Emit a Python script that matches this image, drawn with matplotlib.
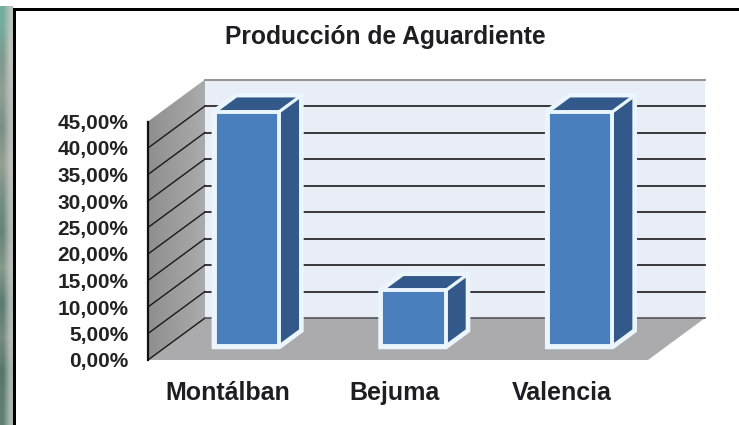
import numpy as np
import matplotlib
matplotlib.use('Agg')
import matplotlib.pyplot as plt
from matplotlib.patches import Polygon, Rectangle

# chart values
categories = ['Montálban', 'Bejuma', 'Valencia']
values = [44.2, 10.5, 44.2]
y_ticks = [0, 5, 10, 15, 20, 25, 30, 35, 40, 45]
y_labels = ['0,00%', '5,00%', '10,00%', '15,00%', '20,00%', '25,00%', '30,00%', '35,00%', '40,00%', '45,00%']
title = 'Producción de Aguardiente'

W, H = 739, 425
plt.rcParams['font.family'] = ['Liberation Sans', 'DejaVu Sans']

fig = plt.figure(figsize=(W / 100, H / 100), dpi=100, facecolor='white')

# background strip left of the black frame
bg = fig.add_axes([0, 0, 1, 1], zorder=0)
strip = np.array([[[0.45, 0.68, 0.62], [0.72, 0.76, 0.72]],
                  [[0.50, 0.60, 0.56], [0.74, 0.76, 0.73]],
                  [[0.56, 0.62, 0.58], [0.72, 0.74, 0.72]],
                  [[0.48, 0.56, 0.52], [0.70, 0.73, 0.71]],
                  [[0.58, 0.62, 0.58], [0.74, 0.75, 0.72]],
                  [[0.46, 0.56, 0.52], [0.70, 0.74, 0.71]],
                  [[0.40, 0.52, 0.47], [0.68, 0.72, 0.70]],
                  [[0.52, 0.60, 0.55], [0.72, 0.74, 0.71]],
                  [[0.36, 0.48, 0.44], [0.66, 0.72, 0.69]],
                  [[0.46, 0.54, 0.50], [0.70, 0.73, 0.70]],
                  [[0.34, 0.46, 0.42], [0.64, 0.70, 0.67]],
                  [[0.38, 0.50, 0.45], [0.66, 0.71, 0.68]]])
bg.imshow(strip, extent=(0, 13, H, 6), aspect='auto', interpolation='bilinear', zorder=1)
bg.set_xlim(0, W)
bg.set_ylim(H, 0)
bg.axis('off')
bg.add_patch(Rectangle((13, 8), W, 3, color='black', lw=0, zorder=2))
bg.add_patch(Rectangle((13, 8), 3, H, color='black', lw=0, zorder=2))

# plot area, front plane of the 3d box
left, right, bottom, top = 148, 648, 360, 121.5
ax = fig.add_axes([left / W, 1 - bottom / H, (right - left) / W, (bottom - top) / H], zorder=2)
ax.patch.set_alpha(0)
xmin, xmax = -0.48, 2.52
ax.set_xlim(xmin, xmax)
ax.set_ylim(0, 45)

# depth of the box in data units
px_x = (xmax - xmin) / (right - left)
px_y = 45 / (bottom - top)
DX = 57 * px_x
DY = 42 * px_y


def pt(x, y, d=0.0):
    return (x + d * DX, y + d * DY)


def poly(points, **kw):
    kw.setdefault('lw', 0)
    kw.setdefault('clip_on', False)
    p = Polygon(points, closed=True, **kw)
    ax.add_patch(p)
    return p


# back wall, floor, side wall
poly([pt(xmin, 0, 1), pt(xmax, 0, 1), pt(xmax, 45, 1), pt(xmin, 45, 1)], fc='#E9EDF5', zorder=1)
poly([pt(xmin, 0), pt(xmax, 0), pt(xmax, 0, 1), pt(xmin, 0, 1)], fc='#ABABAD', zorder=1)
side = poly([pt(xmin, 0), pt(xmin, 0, 1), pt(xmin, 45, 1), pt(xmin, 45)], fc='none', zorder=1)
grad = ax.imshow(np.linspace(0.56, 0.67, 30).reshape(1, 30), cmap='gray', vmin=0, vmax=1,
                 extent=(xmin, xmin + DX, 0, 45 + DY), aspect='auto', zorder=1)
grad.set_clip_box(fig.bbox)
grad.set_clip_path(side)
ax.set_xlim(xmin, xmax)
ax.set_ylim(0, 45)

# gridlines on the side wall and the back wall
for t in y_ticks[1:]:
    c = '#2A2A2E' if t < 45 else '#8A8A8C'
    if t < 45:
        ax.plot(*zip(pt(xmin, t), pt(xmin, t, 1)), color='#1A1A1A', lw=1.0, zorder=2, clip_on=False)
    ax.plot(*zip(pt(xmin, t, 1), pt(xmax, t, 1)), color=c, lw=1.3, zorder=2, clip_on=False)
ax.plot(*zip(pt(xmin, 0), pt(xmin, 0, 1)), color='#1A1A1A', lw=1.0, zorder=2, clip_on=False)
ax.plot(*zip(pt(xmin, 0, 1), pt(xmax, 0, 1)), color='#55555A', lw=1.2, zorder=2, clip_on=False)

# bars
bar_w = 0.385
d0, d1 = 0.33, 0.71
edge = '#EAF5FC'
for i, v in enumerate(values):
    xl, xr = i - bar_w / 2, i + bar_w / 2
    # white halo cuts the gridlines behind the bar
    poly([pt(xl, 0, d0), pt(xr, 0, d0), pt(xr, 0, d1), pt(xr, v, d1), pt(xl, v, d1), pt(xl, v, d0)],
         fc=edge, ec=edge, lw=4.5, joinstyle='miter', zorder=3)
    poly([pt(xr, 0, d0), pt(xr, 0, d1), pt(xr, v, d1), pt(xr, v, d0)],
         fc='#33598A', ec=edge, lw=2.2, joinstyle='miter', zorder=4)
    poly([pt(xl, v, d0), pt(xr, v, d0), pt(xr, v, d1), pt(xl, v, d1)],
         fc='#33598A', ec=edge, lw=2.2, joinstyle='miter', zorder=4)
    poly([pt(xl, 0, d0), pt(xr, 0, d0), pt(xr, v, d0), pt(xl, v, d0)],
         fc='#4B7EBC', ec=edge, lw=2.8, joinstyle='miter', zorder=5)

# axes and labels
for s in ['top', 'right', 'bottom']:
    ax.spines[s].set_visible(False)
ax.spines['left'].set_linewidth(1.6)
ax.spines['left'].set_color('#111111')
ax.spines['left'].set_zorder(6)
ax.set_yticks(y_ticks)
ax.set_yticklabels(y_labels, fontsize=15, fontweight='bold', color='#222222')
ax.tick_params(axis='y', length=0, pad=14)
ax.set_xticks(range(len(categories)))
ax.set_xticklabels(categories, fontsize=18, fontweight='bold', color='#1E1E22')
ax.tick_params(axis='x', length=0, pad=15)

fig.text(385 / W, 1 - 37 / H, title, ha='center', va='center', fontsize=17.7,
         fontweight='bold', color='#1E1E22')

fig.savefig('out.png', dpi=100)
